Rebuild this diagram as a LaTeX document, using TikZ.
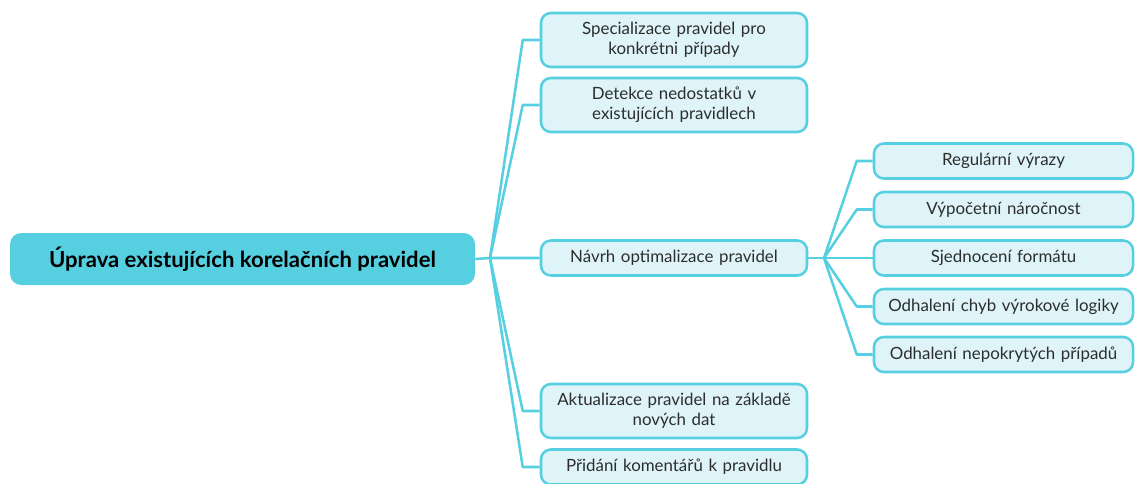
\documentclass[tikz,border=0pt]{standalone}
\usepackage{fontspec}
\setmainfont{Lato}
\usetikzlibrary{positioning}
\definecolor{mycyan}{RGB}{86,207,225}
\definecolor{mylight}{RGB}{222,244,248}
\definecolor{mytext}{RGB}{45,45,45}

\begin{document}
\begin{tikzpicture}[x=0.025cm,y=-0.025cm,inner sep=0pt]
\tikzstyle{root}=[rectangle, rounded corners=8, fill=mycyan, minimum width=465*0.025cm, minimum height=52*0.025cm, font=\fontsize{15.7}{18}\selectfont\bfseries, text=black]
\tikzstyle{child}=[rectangle, rounded corners=7, draw=mycyan, line width=1.8pt, fill=mylight, minimum width=266*0.025cm, text width=255*0.025cm, align=center, font=\fontsize{12}{14.4}\selectfont, text=mytext]
\tikzstyle{leaf}=[child, minimum width=259*0.025cm, text width=250*0.025cm, minimum height=35*0.025cm]
\tikzstyle{link}=[draw=mycyan, line width=1.8pt, line join=round]
\useasboundingbox (0,0) rectangle (1135,483);
% root and first level
\node[root] (upr) at (242.5,259) {Úprava existujících korelačních pravidel};
\node[child,minimum height=54*0.025cm] (spec) at (674,40) {Specializace pravidel pro\\ konkrétni případy};
\node[child,minimum height=54*0.025cm] (det) at (674,105) {Detekce nedostatků v\\ existujících pravidlech};
\node[child,minimum height=35*0.025cm] (nav) at (674,258) {Návrh optimalizace pravidel};
\node[child,minimum height=54*0.025cm] (akt) at (674,411) {Aktualizace pravidel na základě\\ nových dat};
\node[child,minimum height=35*0.025cm] (pri) at (674,467) {Přidání komentářů k pravidlu};
% second level
\node[leaf] (reg) at (1003.5,161) {Regulární výrazy};
\node[leaf] (vyp) at (1003.5,209.5) {Výpočetní náročnost};
\node[leaf] (sje) at (1003.5,258) {Sjednocení formátu};
\node[leaf] (chy) at (1003.5,306.5) {Odhalení chyb výrokové logiky};
\node[leaf] (nep) at (1003.5,354.5) {Odhalení nepokrytých případů};
\coordinate (b1) at (490,258);
\coordinate (b2) at (824,258);
\draw[link] (upr.east) -- (b1) -- (nav.west);
\draw[link] (spec.west) -- ++(-17,0) -- (b1);
\draw[link] (det.west) -- ++(-17,0) -- (b1);
\draw[link] (akt.west) -- ++(-17,0) -- (b1);
\draw[link] (pri.west) -- ++(-17,0) -- (b1);
\draw[link] (nav.east) -- (b2) -- (sje.west);
\draw[link] (reg.west) -- ++(-16,0) -- (b2);
\draw[link] (vyp.west) -- ++(-16,0) -- (b2);
\draw[link] (chy.west) -- ++(-16,0) -- (b2);
\draw[link] (nep.west) -- ++(-16,0) -- (b2);
\end{tikzpicture}
\end{document}
